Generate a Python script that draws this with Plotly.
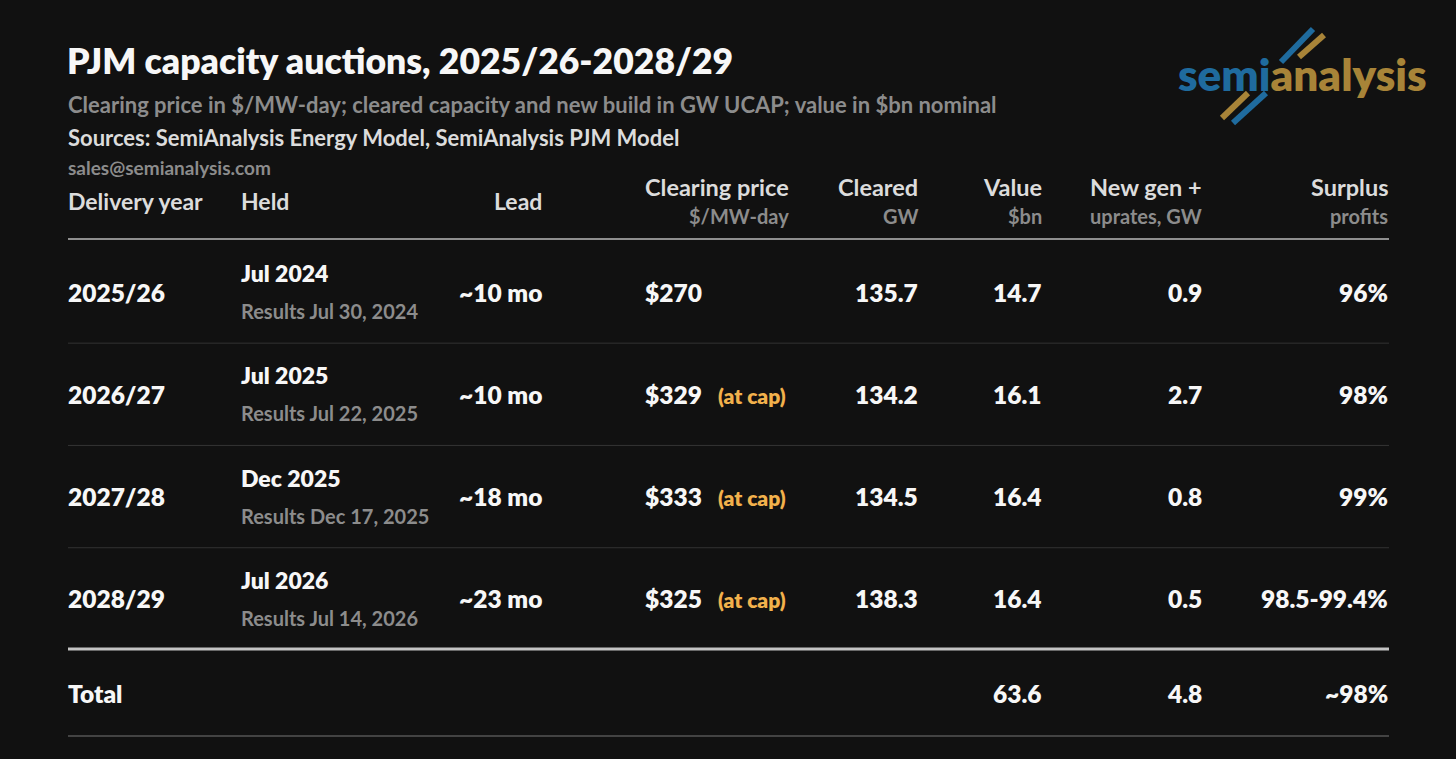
import plotly.graph_objects as go

# table data
delivery_year = ["2025/26", "2026/27", "2027/28", "2028/29"]
held = ["Jul 2024", "Jul 2025", "Dec 2025", "Jul 2026"]
results = ["Results Jul 30, 2024", "Results Jul 22, 2025",
           "Results Dec 17, 2025", "Results Jul 14, 2026"]
lead = ["~10 mo", "~10 mo", "~18 mo", "~23 mo"]
clearing_price = [270, 329, 333, 325]
at_cap = [False, True, True, True]
cleared_gw = [135.7, 134.2, 134.5, 138.3]
value_bn = [14.7, 16.1, 16.4, 16.4]
new_gen_gw = [0.9, 2.7, 0.8, 0.5]
surplus = ["96%", "98%", "99%", "98.5-99.4%"]
total_value = 63.6
total_new_gen = 4.8
total_surplus = "~98%"

title = "PJM capacity auctions, 2025/26-2028/29"
subtitle = "Clearing price in $/MW-day; cleared capacity and new build in GW UCAP; value in $bn nominal"
sources = "Sources: SemiAnalysis Energy Model, SemiAnalysis PJM Model"
contact = "sales@semianalysis.com"

BG = "#111111"
WHITE = "#f7f7f7"
GREY = "#8c8c8c"
LIGHT = "#dcdcdc"
ORANGE = "#f2b14c"
BLUE = "#1f6b9e"
GOLD = "#a88438"
FONT = "Lato"
W, H = 1456, 759

# column anchors (px), rows
X_YEAR, X_HELD, X_LEAD, X_PRICE, X_CAP = 68, 241, 542, 645, 718
X_CLEARED, X_VALUE, X_NEWGEN, X_SURPLUS = 918, 1042, 1202, 1388
ROW0, ROW_H = 292, 102.3
rows = [ROW0 + i * ROW_H for i in range(len(delivery_year))]
TOTAL_Y = 693
BODY = 24.5
HEAVY = 800

fig = go.Figure()
ann = []


def txt(x, y, s, size, color=WHITE, anchor="left", weight=700):
    x = x - 2 if anchor == "left" else x + 2
    ann.append(dict(x=x, y=y, xref="x", yref="y", text=s, showarrow=False,
                    xanchor=anchor, yanchor="middle",
                    font=dict(family=FONT, size=size, color=color, weight=weight)))


# titles
txt(X_YEAR - 1, 60, title, 35.5, weight=HEAVY)
txt(X_YEAR, 104, subtitle, 22, GREY)
txt(X_YEAR, 137, sources, 22, LIGHT)
txt(X_YEAR, 167, contact, 19, GREY)

# header
txt(X_YEAR, 201, "Delivery year", 23, LIGHT)
txt(X_HELD, 201, "Held", 23, LIGHT)
txt(X_LEAD, 201, "Lead", 23, LIGHT, "right")
headers = [(789, "Clearing price", "$/MW-day"),
           (X_CLEARED, "Cleared", "GW"),
           (X_VALUE, "Value", "$bn"),
           (X_NEWGEN, "New gen +", "uprates, GW"),
           (X_SURPLUS, "Surplus", "profits")]
for x, top, bottom in headers:
    txt(x, 187, top, 23.5, LIGHT, "right")
    txt(x, 216, bottom, 20, GREY, "right")

# body rows
for i, y in enumerate(rows):
    txt(X_YEAR, y, delivery_year[i], BODY, weight=HEAVY)
    txt(X_HELD, y - 19, held[i], 23, weight=HEAVY)
    txt(X_HELD, y + 19, results[i], 20, GREY)
    txt(X_LEAD, y, lead[i], BODY, anchor="right", weight=HEAVY)
    txt(X_PRICE, y, f"${clearing_price[i]}", BODY, weight=HEAVY)
    if at_cap[i]:
        txt(X_CAP, y + 1, "(at cap)", 21, ORANGE, weight=HEAVY)
    txt(X_CLEARED, y, f"{cleared_gw[i]:.1f}", BODY, anchor="right", weight=HEAVY)
    txt(X_VALUE, y, f"{value_bn[i]:.1f}", BODY, anchor="right", weight=HEAVY)
    txt(X_NEWGEN, y, f"{new_gen_gw[i]:.1f}", BODY, anchor="right", weight=HEAVY)
    txt(X_SURPLUS, y, surplus[i], BODY, anchor="right", weight=HEAVY)

# total row
txt(X_YEAR, TOTAL_Y, "Total", BODY, weight=HEAVY)
txt(X_VALUE, TOTAL_Y, f"{total_value:.1f}", BODY, anchor="right", weight=HEAVY)
txt(X_NEWGEN, TOTAL_Y, f"{total_new_gen:.1f}", BODY, anchor="right", weight=HEAVY)
txt(X_SURPLUS, TOTAL_Y, total_surplus, BODY, anchor="right", weight=HEAVY)

# logo
ann.append(dict(x=1176, y=74, xref="x", yref="y", showarrow=False,
                xanchor="left", yanchor="middle",
                text=f"<span style='color:{BLUE}'>semi</span><span style='color:{GOLD}'>analysis</span>",
                font=dict(family=FONT, size=44, weight=HEAVY)))

shapes = []


def hline(y, color, width):
    shapes.append(dict(type="line", xref="x", yref="y", x0=68, x1=1389,
                       y0=y, y1=y, line=dict(color=color, width=width)))


hline(239, "#8f8f8f", 2)
for y in rows[:-1]:
    hline(y + ROW_H / 2, "#333333", 1)
hline(649, "#c4c4c4", 3)
hline(736, "#555555", 1.5)

# logo bars
for (x0, y0, x1, y1, c) in [(1281, 62, 1313, 29, BLUE), (1299, 57, 1324, 35, GOLD),
                            (1222, 118, 1248, 93, GOLD), (1233, 123, 1266, 93, BLUE)]:
    shapes.append(dict(type="line", xref="x", yref="y", x0=x0, y0=y0, x1=x1, y1=y1,
                       line=dict(color=c, width=6)))

fig.update_layout(
    width=W, height=H,
    paper_bgcolor=BG, plot_bgcolor=BG,
    margin=dict(l=0, r=0, t=0, b=0),
    xaxis=dict(range=[0, W], visible=False, fixedrange=True),
    yaxis=dict(range=[H, 0], visible=False, fixedrange=True),
    annotations=ann, shapes=shapes, showlegend=False,
)

fig.write_html("out.html", config={"displayModeBar": False},
               post_script="document.body.style.margin='0';"
                           "document.body.style.background='#111111';")
